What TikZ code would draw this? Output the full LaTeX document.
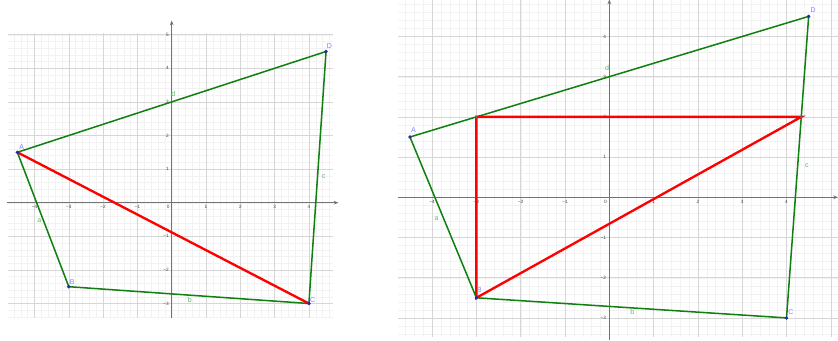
\documentclass[tikz,border=0pt]{standalone}
\usepackage{fontspec}
\setmainfont{Liberation Sans}
\usetikzlibrary{arrows.meta}
\definecolor{seggreen}{RGB}{16,128,16}
\definecolor{ptblue}{RGB}{40,40,170}
\definecolor{lblblue}{RGB}{130,130,255}
\definecolor{lblgreen}{RGB}{90,190,90}

\begin{document}
\begin{tikzpicture}[x=0.3mm, y=0.3mm, >=Stealth,
      minor/.style={draw=black!5, line width=0.3pt},
      major/.style={draw=black!16, line width=0.45pt},
      axis/.style={draw=black!55, line width=1.2pt, -{Stealth[length=4pt, width=3.2pt]}},
      tick/.style={font=\fontsize{4}{4}\selectfont, text=black!75, inner sep=0.8pt},
      seg/.style={draw=seggreen, line width=1.3pt},
      diag/.style={draw=red, line width=2pt},
      ptlbl/.style={font=\fontsize{6}{6}\selectfont, text=lblblue, inner sep=0pt},
      seglbl/.style={font=\fontsize{6}{6}\selectfont, text=lblgreen, inner sep=0pt}]
  \useasboundingbox (0,0) rectangle (838,341);
  \begin{scope}[shift={(171.7,138.3)}, x=10.29mm, y=10.08mm]
    \draw[minor] (-4.76,-3.43) grid[step=0.2] (4.7,5.04);
    \draw[major] (-4.76,-3.43) grid[step=1] (4.7,5.04);
    \coordinate (xl1) at (-4.79,0);
    \coordinate (xr1) at (4.86,0);
    \coordinate (yb1) at (0,-3.43);
    \coordinate (yt1) at (0,5.42);
    \draw[axis] (xl1) -- (xr1);
    \draw[axis] (yb1) -- (yt1);
    \foreach \i/\t in {-4/−4,-3/−3,-2/−2,-1/−1,1/1,2/2,3/3,4/4}
      \node[tick, anchor=north] (lx1\i) at (\i,-0.05) {\t};
    \foreach \i/\t in {-3/−3,-2/−2,-1/−1,1/1,2/2,3/3,4/4,5/5}
      \node[tick, anchor=east] (ly1\i) at (-0.05,\i) {\t};
    \node[tick, anchor=north east] (lo1) at (-0.03,-0.05) {0};
    \coordinate (A1) at (-4.5,1.5);
    \coordinate (B1) at (-3,-2.5);
    \coordinate (C1) at (4,-3);
    \coordinate (D1) at (4.5,4.5);
    \draw[seg] (A1) -- (B1) -- (C1) -- (D1) -- cycle;
    \draw[diag] (A1) -- (C1);
    \foreach \p in {A1,B1,C1,D1} \fill[ptblue] (\p) circle (1.6pt);
    \node[ptlbl] (nA1) at (-4.37,1.67) {A};
    \node[ptlbl] (nB1) at (-2.9,-2.35) {B};
    \node[ptlbl] (nC1) at (4.11,-2.9) {C};
    \node[ptlbl] (nD1) at (4.6,4.66) {D};
    \node[seglbl] (sa1) at (-3.86,-0.54) {a};
    \node[seglbl] (sb1) at (0.53,-2.9) {b};
    \node[seglbl] (sc1) at (4.44,0.78) {c};
    \node[seglbl] (sd1) at (0.05,3.25) {d};
  \end{scope}
  \begin{scope}[shift={(609.3,143.7)}, x=13.29mm, y=12.06mm]
    \draw[minor] (-4.76,-3.47) grid[step=0.2] (5.16,4.92);
    \draw[major] (-4.76,-3.47) grid[step=1] (5.16,4.92);
    \coordinate (xl2) at (-4.76,0);
    \coordinate (xr2) at (5.16,0);
    \coordinate (yb2) at (0,-3.55);
    \coordinate (yt2) at (0,4.92);
    \draw[axis] (xl2) -- (xr2);
    \draw[axis] (yb2) -- (yt2);
    \foreach \i/\t in {-4/−4,-3/−3,-2/−2,-1/−1,1/1,2/2,3/3,4/4}
      \node[tick, anchor=north] (lx2\i) at (\i,-0.05) {\t};
    \foreach \i/\t in {-3/−3,-2/−2,-1/−1,1/1,2/2,3/3,4/4}
      \node[tick, anchor=east] (ly2\i) at (-0.05,\i) {\t};
    \node[tick, anchor=north east] (lo2) at (-0.03,-0.05) {0};
    \coordinate (A2) at (-4.5,1.5);
    \coordinate (B2) at (-3,-2.5);
    \coordinate (C2) at (4,-3);
    \coordinate (D2) at (4.5,4.5);
    \coordinate (E2) at (-3,2);
    \coordinate (F2) at (4.333,2);
    \draw[seg] (A2) -- (B2) -- (C2) -- (D2) -- cycle;
    \draw[diag] (B2) -- (E2) -- (F2) -- cycle;
    \foreach \p in {A2,B2,C2,D2} \fill[ptblue] (\p) circle (1.6pt);
    \foreach \p in {E2,F2} \fill[black!60] (\p) circle (1.2pt);
    \node[ptlbl] (nA2) at (-4.42,1.67) {A};
    \node[ptlbl] (nB2) at (-2.93,-2.32) {B};
    \node[ptlbl] (nC2) at (4.1,-2.85) {C};
    \node[ptlbl] (nD2) at (4.6,4.66) {D};
    \node[seglbl] (sa2) at (-3.9,-0.52) {a};
    \node[seglbl] (sb2) at (0.52,-2.86) {b};
    \node[seglbl] (sc2) at (4.46,0.79) {c};
    \node[seglbl] (sd2) at (-0.05,3.21) {d};
  \end{scope}
\end{tikzpicture}
\end{document}
